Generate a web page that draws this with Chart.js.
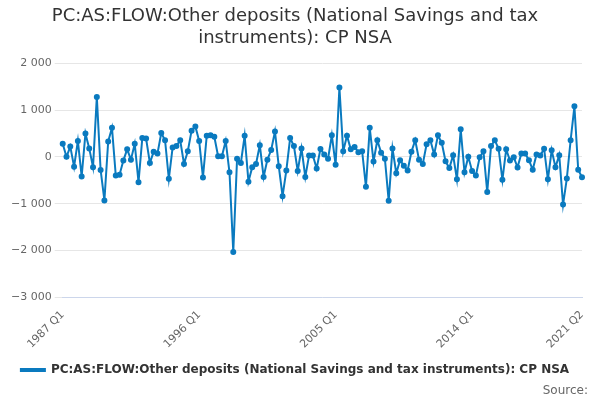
<!DOCTYPE html>
<html>
<head>
<meta charset="utf-8">
<script src="https://cdn.jsdelivr.net/npm/chart.js@4"></script>
<style>
    body { margin: 0; background: #fff; font-family: "DejaVu Sans", sans-serif; }
    #wrap { position: relative; width: 600px; height: 400px; }
    #source { position: absolute; right: 12px; bottom: 3px; font-size: 12px; color: #666; }
</style>
</head>
<body>
<div id="wrap">
    <canvas id="chart" width="600" height="400"></canvas>
    <div id="source">Source:</div>
</div>
<script>
// Quarterly values, 1987 Q1 .. 2021 Q2
const values = [
    280, 0, 220, -210, 340, -420, 500, 180, -220, 1280,
    -280, -930, 330, 620, -400, -380, -80, 160, -60, 280,
    -540, 400, 390, -130, 110, 70, 510, 355, -470, 200,
    230, 355, -150, 120, 560, 650, 340, -440, 450, 460,
    430, 15, 15, 340, -330, -2030, -40, -130, 450, -530,
    -220, -150, 250, -430, -60, 145, 540, -200, -840, -290,
    400, 230, -300, 180, -430, 30, 30, -250, 170, 50,
    -40, 460, -170, 1480, 120, 450, 160, 210, 100, 120,
    -640, 620, -100, 355, 90, -40, -940, 180, -350, -70,
    -190, -290, 110, 355, -60, -150, 270, 355, 50, 460,
    300, -95, -240, 35, -480, 590, -330, 0, -300, -400,
    -10, 120, -750, 230, 355, 175, -490, 160, -80, -10,
    -225, 70, 70, -70, -275, 50, 30, 175, -480, 140,
    -220, 35, -1020, -460, 355, 1080, -275, -435
];
const shownTicks = ["1987 Q1", "1996 Q1", "2005 Q1", "2014 Q1", "2021 Q2"];
const yTicks = [-3000, -2000, -1000, 0, 1000, 2000];

const labels = [];
for (let y = 1987; y <= 2021; y++) {
    for (let q = 1; q <= 4; q++) {
        if (y === 2021 && q > 2) break;
        labels.push(y + " Q" + q);
    }
}

const fmt = (v) => {
    const s = Math.abs(v).toString().replace(/\B(?=(\d{3})+(?!\d))/g, " ");
    return (v < 0 ? "−" : "") + s;
};

new Chart(document.getElementById("chart"), {
    type: "line",
    data: {
        labels: labels,
        datasets: [{
            label: "PC:AS:FLOW:Other deposits (National Savings and tax instruments): CP NSA",
            data: values,
            borderColor: "#0a7abf",
            backgroundColor: "#0a7abf",
            borderWidth: 2,
            pointRadius: 2,
            pointHoverRadius: 3,
            tension: 0,
        }],
    },
    options: {
        responsive: false,
        animation: false,
        layout: { padding: { left: 8, right: 18, top: 0, bottom: 14 } },
        plugins: {
            title: {
                display: true,
                text: ["PC:AS:FLOW:Other deposits (National Savings and tax", "instruments): CP NSA"],
                color: "#333",
                font: { size: 18, family: "DejaVu Sans", weight: "normal" },
                padding: { top: 6, bottom: 14 },
            },
            legend: {
                position: "bottom",
                labels: {
                    color: "#333",
                    font: { size: 12, weight: "bold", family: "DejaVu Sans" },
                    boxWidth: 24,
                    boxHeight: 2,
                },
            },
        },
        scales: {
            x: {
                grid: { display: false },
                border: { color: "#ccd6eb" },
                ticks: {
                    autoSkip: false,
                    maxRotation: 45,
                    minRotation: 45,
                    color: "#666",
                    font: { size: 11, family: "DejaVu Sans" },
                    callback: function (val, i) {
                        const l = labels[i];
                        return shownTicks.includes(l) ? l : null;
                    },
                },
            },
            y: {
                min: -3000,
                max: 2000,
                afterBuildTicks: (axis) => { axis.ticks = yTicks.map((v) => ({ value: v })); },
                grid: { color: "#e6e6e6" },
                border: { display: false },
                ticks: {
                    color: "#666",
                    font: { size: 11, family: "DejaVu Sans" },
                    callback: (v) => fmt(v),
                },
            },
        },
    },
});
</script>
</body>
</html>
